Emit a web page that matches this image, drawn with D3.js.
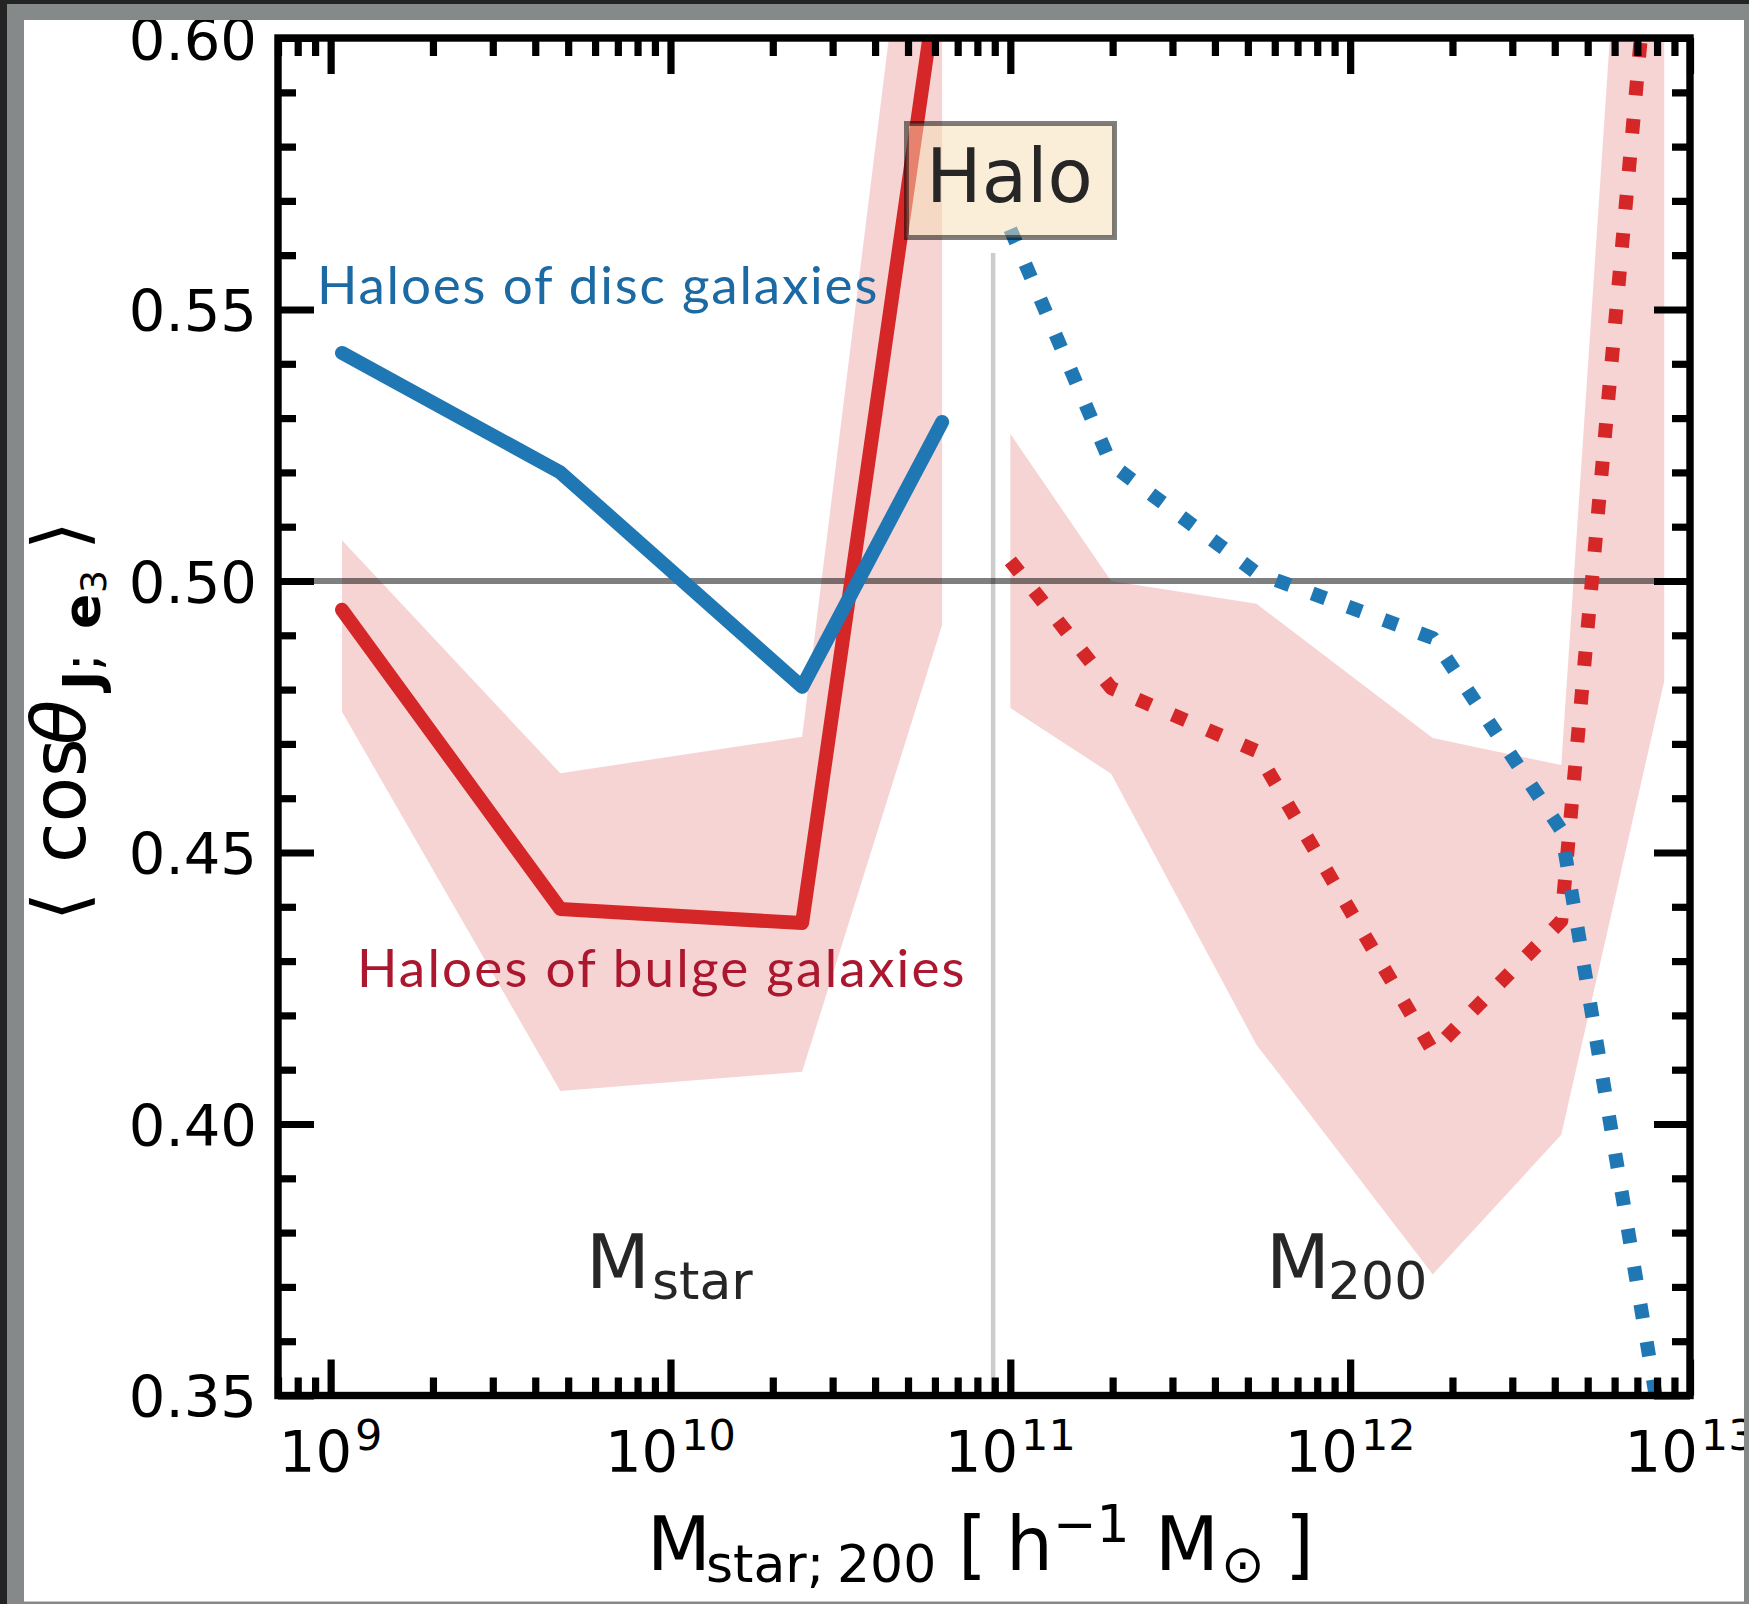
<!DOCTYPE html>
<html>
<head>
<meta charset="utf-8">
<script src="https://cdn.jsdelivr.net/npm/d3@7"></script>
<style>
  html, body { margin: 0; padding: 0; background: #242424; overflow: hidden; }
  svg { display: block; }
</style>
</head>
<body>
<svg id="chart" width="1749" height="1604"></svg>
<script>
// Stellar-mass bins [h^-1 Msun] and mean cos(theta) of halo spin vs. e3
const starMass   = [1.08e9, 4.74e9, 2.44e10, 6.3e10];
const discStar   = [0.542, 0.520, 0.4805, 0.5293];
const bulgeStar  = [0.4947, 0.4396, 0.437, 0.6164];
const bulgeStarLo = [0.4759, 0.4061, 0.4096, 0.4919];
const bulgeStarHi = [0.5075, 0.4646, 0.4713, 0.679];

// Halo-mass (M200) bins [h^-1 Msun]
const haloMass   = [1.0e11, 1.98e11, 5.3e11, 1.75e12, 4.18e12, 8.4e12];
const discHalo   = [0.5648, 0.5215, 0.5015, 0.4895, 0.4541, 0.3405];
const bulgeHalo  = [0.5037, 0.4803, 0.4687, 0.4134, 0.4374, 0.648];
const bulgeHaloLo = [0.4766, 0.4645, 0.4146, 0.3723, 0.398, 0.4816];
const bulgeHaloHi = [0.5271, 0.500, 0.4958, 0.4711, 0.4661, 0.75];

// Axis ticks
const xMajorTicks = [1e9, 1e10, 1e11, 1e12, 1e13];
const xTickExponents = ["9", "10", "11", "12", "13"];
const yMajorTicks = [0.35, 0.40, 0.45, 0.50, 0.55, 0.60];
const yTickLabels = ["0.35", "0.40", "0.45", "0.50", "0.55", "0.60"];

// Reference levels
const randomLevel = 0.5;       // isotropic expectation
const splitMass = 8.9e10;      // divider between the M_star and M_200 blocks
const splitTop = 0.5604;

const W = 1749, H = 1604;
const plot = { left: 278, right: 1690, top: 38, bottom: 1395.5 };

const x = d3.scaleLog().domain([7e8, 1e13]).range([plot.left, plot.right]);
const y = d3.scaleLinear().domain([0.35, 0.60]).range([plot.bottom, plot.top]);

const BLUE = "#1f77b4", RED = "#d62728";
const AXFONT = "'DejaVu Sans', sans-serif";
const NOTEFONT = "Lato, 'Open Sans', sans-serif";

const svg = d3.select("#chart");

// window frame
svg.append("rect").attr("width", W).attr("height", H).attr("fill", "#242424");
svg.append("rect").attr("x", 7).attr("y", 4).attr("width", W - 7).attr("height", H - 4).attr("fill", "#868989");
const defs = svg.append("defs");
defs.append("clipPath").attr("id", "page")
  .append("rect").attr("x", 24).attr("y", 20).attr("width", 1720).attr("height", 1581.7);
defs.append("clipPath").attr("id", "plotArea")
  .append("rect").attr("x", plot.left).attr("y", plot.top)
  .attr("width", plot.right - plot.left).attr("height", plot.bottom - plot.top);

const page = svg.append("g").attr("clip-path", "url(#page)");
page.append("rect").attr("x", 24).attr("y", 20).attr("width", 1720).attr("height", 1581.7).attr("fill", "#fff");

const area = page.append("g").attr("clip-path", "url(#plotArea)");

const band = d3.area().x(d => x(d.m)).y0(d => y(d.lo)).y1(d => y(d.hi));
const line = d3.line().x(d => x(d.m)).y(d => y(d.v));

const zipBand = (m, lo, hi) => m.map((v, i) => ({ m: v, lo: lo[i], hi: hi[i] }));
const zipLine = (m, vals) => m.map((v, i) => ({ m: v, v: vals[i] }));

// scatter bands of the bulge-galaxy haloes
area.append("path").datum(zipBand(starMass, bulgeStarLo, bulgeStarHi))
  .attr("d", band).attr("fill", RED).attr("fill-opacity", 0.2);
area.append("path").datum(zipBand(haloMass, bulgeHaloLo, bulgeHaloHi))
  .attr("d", band).attr("fill", RED).attr("fill-opacity", 0.2);

// isotropic level and block divider
area.append("line")
  .attr("x1", plot.left).attr("x2", plot.right)
  .attr("y1", y(randomLevel)).attr("y2", y(randomLevel))
  .attr("stroke", "#000").attr("stroke-opacity", 0.5).attr("stroke-width", 6);
area.append("line")
  .attr("x1", x(splitMass)).attr("x2", x(splitMass))
  .attr("y1", y(splitTop)).attr("y2", plot.bottom)
  .attr("stroke", "#000").attr("stroke-opacity", 0.2).attr("stroke-width", 4.5);

// mean curves: solid for M_star, dotted for M_200
function drawCurve(data, color, dotted) {
  const p = area.append("path").datum(data).attr("d", line)
    .attr("fill", "none").attr("stroke", color).attr("stroke-width", 14);
  if (dotted) {
    p.attr("stroke-dasharray", "14.4 23.8").attr("stroke-linecap", "butt").attr("stroke-linejoin", "round");
  } else {
    p.attr("stroke-linecap", "round").attr("stroke-linejoin", "round");
  }
}
drawCurve(zipLine(starMass, bulgeStar), RED, false);
drawCurve(zipLine(haloMass, bulgeHalo), RED, true);
drawCurve(zipLine(starMass, discStar), BLUE, false);
drawCurve(zipLine(haloMass, discHalo), BLUE, true);

// ---- ticks (inward on all four sides) ----
const xMinorTicks = [];
for (let e = 8; e < 13; e++) {
  for (let k = 2; k <= 9; k++) {
    const v = k * Math.pow(10, e);
    if (v >= 7e8 && v < 1e13) xMinorTicks.push(v);
  }
}
const yMinorTicks = d3.range(35, 61).map(i => i / 100).filter(v => !yMajorTicks.some(t => Math.abs(t - v) < 1e-9));

function tickSet(axis, transform, values, size) {
  const g = page.append("g").attr("transform", transform)
    .call(axis.tickValues(values).tickSize(-size).tickFormat(""));
  g.select(".domain").remove();
  g.selectAll(".tick text").remove();
  g.selectAll(".tick line").attr("stroke", "#000").attr("stroke-width", 7.2);
}
tickSet(d3.axisBottom(x), `translate(0,${plot.bottom})`, xMajorTicks, 36);
tickSet(d3.axisBottom(x), `translate(0,${plot.bottom})`, xMinorTicks, 18);
tickSet(d3.axisTop(x), `translate(0,${plot.top})`, xMajorTicks, 36);
tickSet(d3.axisTop(x), `translate(0,${plot.top})`, xMinorTicks, 18);
tickSet(d3.axisLeft(y), `translate(${plot.left},0)`, yMajorTicks, 36);
tickSet(d3.axisLeft(y), `translate(${plot.left},0)`, yMinorTicks, 18);
tickSet(d3.axisRight(y), `translate(${plot.right},0)`, yMajorTicks, 36);
tickSet(d3.axisRight(y), `translate(${plot.right},0)`, yMinorTicks, 18);

// spines
page.append("rect")
  .attr("x", plot.left).attr("y", plot.top)
  .attr("width", plot.right - plot.left).attr("height", plot.bottom - plot.top)
  .attr("fill", "none").attr("stroke", "#000").attr("stroke-width", 7.4);

// tick labels
page.append("g").selectAll("text").data(yMajorTicks).join("text")
  .attr("x", plot.left - 21).attr("y", d => y(d)).attr("dy", "0.38em")
  .attr("text-anchor", "end").attr("font-family", AXFONT).attr("font-size", 57.6)
  .attr("fill", "#000").text((d, i) => yTickLabels[i]);

const xl = page.append("g").selectAll("text").data(xMajorTicks).join("text")
  .attr("x", d => x(d)).attr("y", plot.bottom + 76)
  .attr("text-anchor", "middle").attr("font-family", AXFONT).attr("font-size", 57.6).attr("fill", "#000");
xl.append("tspan").text("10");
xl.append("tspan").attr("dx", 3).attr("dy", -22).attr("font-size", 43).text((d, i) => xTickExponents[i]);

// rich-text helper: pieces placed at explicit baseline positions
function richText(parent, parts, family, color) {
  parts.forEach(p => {
    parent.append("text")
      .attr("x", p.x).attr("y", p.y)
      .attr("font-family", family).attr("font-size", p.size)
      .attr("font-weight", p.weight || "normal").attr("font-style", p.style || "normal")
      .attr("fill", color).text(p.t);
  });
}

// x-axis title: M_{star; 200} [ h^-1 M_sun ]
richText(page, [
  { t: "M", x: 647, y: 1570, size: 74 },
  { t: "star;", x: 706, y: 1582, size: 52 },
  { t: "200", x: 837, y: 1582, size: 52 },
  { t: "[", x: 958, y: 1570, size: 74 },
  { t: "h", x: 1006, y: 1570, size: 74 },
  { t: "\u22121", x: 1053, y: 1542, size: 52 },
  { t: "M", x: 1155, y: 1570, size: 74 },
  { t: "\u2299", x: 1221, y: 1582, size: 52 },
  { t: "]", x: 1285, y: 1570, size: 74 }
], AXFONT, "#000");

// y-axis title, rotated: < cos theta_{J; e3} >
const yTitle = page.append("g").attr("transform", "rotate(-90)");
richText(yTitle, [
  { t: "\u27E8", x: -921, y: 85, size: 74 },
  { t: "cos", x: -863, y: 85, size: 74 },
  { t: "\u03B8", x: -745, y: 85, size: 74, style: "italic" },
  { t: "J", x: -690, y: 100, size: 52, weight: "bold" },
  { t: ";", x: -671, y: 100, size: 52 },
  { t: "e", x: -629, y: 100, size: 52, weight: "bold" },
  { t: "3", x: -593, y: 106, size: 36 },
  { t: "\u27E9", x: -550, y: 85, size: 74 }
], AXFONT, "#000");

// block labels
richText(page, [
  { t: "M", x: 586, y: 1288, size: 74 },
  { t: "star", x: 652, y: 1299, size: 52 },
  { t: "M", x: 1266, y: 1288, size: 74 },
  { t: "200", x: 1328, y: 1299, size: 52 }
], AXFONT, "#262626");

// curve annotations
page.append("text").attr("x", 317).attr("y", 304)
  .attr("font-family", NOTEFONT).attr("font-size", 53).attr("letter-spacing", 1.8)
  .attr("fill", "#1c6aa3")
  .text("Haloes of disc galaxies");
page.append("text").attr("x", 357).attr("y", 987)
  .attr("font-family", NOTEFONT).attr("font-size", 53).attr("letter-spacing", 2.2)
  .attr("fill", "#aa172e")
  .text("Haloes of bulge galaxies");

// "Halo" tag in a translucent box
page.append("rect")
  .attr("x", 906.5).attr("y", 123.5).attr("width", 208).attr("height", 114)
  .attr("fill", "#f5deb3").attr("fill-opacity", 0.5)
  .attr("stroke", "#000").attr("stroke-opacity", 0.5).attr("stroke-width", 5);
page.append("text").attr("x", 926).attr("y", 202)
  .attr("font-family", AXFONT).attr("font-size", 74).attr("fill", "#262626")
  .text("Halo");
</script>
</body>
</html>
